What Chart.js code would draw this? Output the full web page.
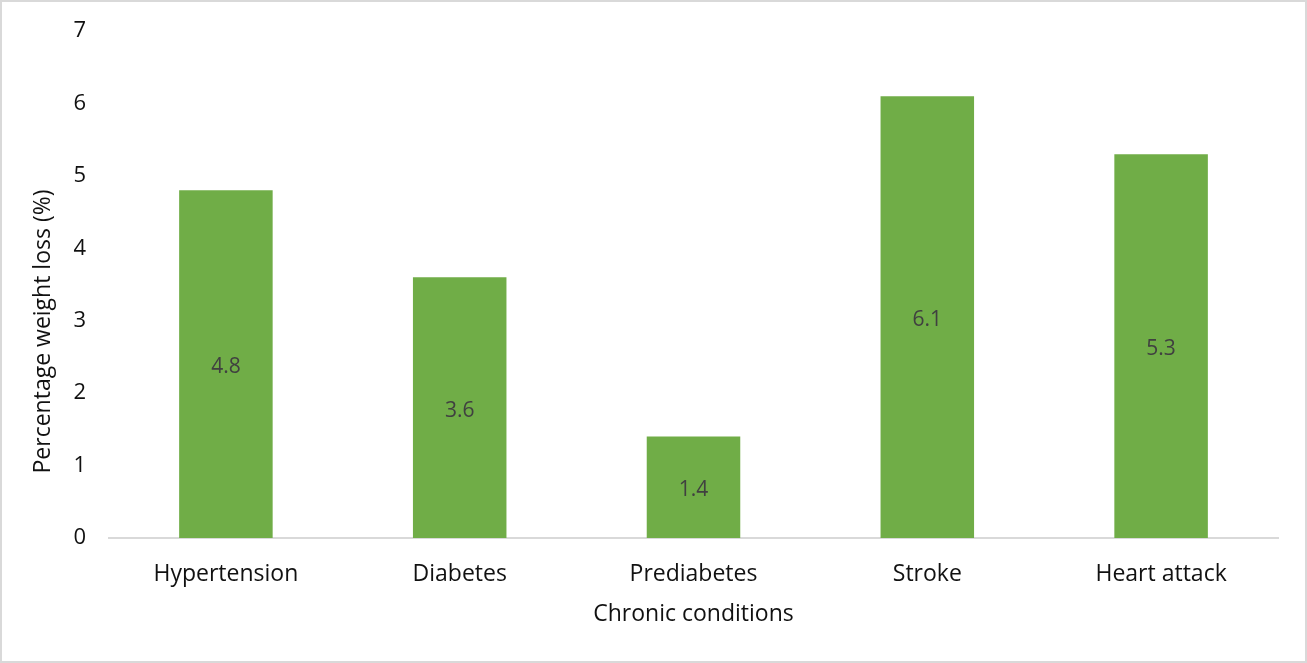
<!DOCTYPE html>
<html>
<head>
<meta charset="utf-8">
<script src="https://cdn.jsdelivr.net/npm/chart.js@4"></script>
<style>
  html, body { margin: 0; padding: 0; background: #ffffff; }
  #wrap { width: 1307px; height: 663px; position: relative; }
</style>
</head>
<body>
<div id="wrap"><canvas id="c" width="1307" height="663"></canvas></div>
<script>
// Mean percentage weight loss by chronic condition
const conditions = ['Hypertension', 'Diabetes', 'Prediabetes', 'Stroke', 'Heart attack'];
const weightLoss = [4.8, 3.6, 1.4, 6.1, 5.3];
const yTicks = [0, 1, 2, 3, 4, 5, 6, 7];
const yTitle = 'Percentage weight loss (%)';
const xTitle = 'Chronic conditions';

const FONT = "'Open Sans', 'Noto Sans', sans-serif";

// Light frame around the whole figure, plus the vertical axis title
// centred on the full figure height
const framePlugin = {
  id: 'frame',
  afterDraw(chart) {
    const ctx = chart.ctx;
    ctx.save();
    ctx.strokeStyle = '#d9d9d9';
    ctx.lineWidth = 2;
    ctx.strokeRect(1, 1, chart.width - 2, chart.height - 2);

    ctx.translate(43, chart.height / 2);
    ctx.rotate(-Math.PI / 2);
    ctx.fillStyle = '#111';
    ctx.font = '23px ' + FONT;
    ctx.textAlign = 'center';
    ctx.textBaseline = 'middle';
    ctx.fillText(yTitle, 0, 0);
    ctx.restore();
  }
};

// Value labels centred inside each bar
const valueLabels = {
  id: 'valueLabels',
  afterDatasetsDraw(chart) {
    const ctx = chart.ctx;
    const meta = chart.getDatasetMeta(0);
    const yScale = chart.scales.y;
    ctx.save();
    ctx.fillStyle = '#404040';
    ctx.font = '21px ' + FONT;
    ctx.textAlign = 'center';
    ctx.textBaseline = 'middle';
    meta.data.forEach((bar, i) => {
      const v = weightLoss[i];
      const mid = (yScale.getPixelForValue(v) + yScale.getPixelForValue(0)) / 2;
      ctx.fillText(v.toFixed(1), bar.x, mid + 3);
    });
    ctx.restore();
  }
};

new Chart(document.getElementById('c'), {
  type: 'bar',
  data: {
    labels: conditions,
    datasets: [{
      data: weightLoss,
      backgroundColor: '#70ad47',
      borderWidth: 0,
      categoryPercentage: 1.0,
      barPercentage: 0.4
    }]
  },
  options: {
    responsive: false,
    animation: false,
    devicePixelRatio: 1,
    layout: { padding: { left: 0, right: 29, top: 31, bottom: 0 } },
    plugins: {
      legend: { display: false },
      tooltip: { enabled: false }
    },
    scales: {
      x: {
        grid: { display: false, drawTicks: false },
        border: { display: true, color: '#d9d9d9', width: 2 },
        ticks: { color: '#111', padding: 23, font: { family: FONT, size: 23 } },
        title: {
          display: true,
          text: xTitle,
          color: '#111',
          font: { family: FONT, size: 23 },
          padding: { top: 0, bottom: 35 }
        },
        afterFit(scale) {
          scale.height = 125;
          scale.paddingLeft = 0;
          scale.paddingRight = 0;
        }
      },
      y: {
        min: 0,
        max: 7,
        afterBuildTicks(scale) { scale.ticks = yTicks.map(v => ({ value: v })); },
        grid: { display: false, drawTicks: false },
        border: { display: false },
        ticks: { color: '#111', padding: 23, font: { family: FONT, size: 22 } },
        title: { display: false },
        afterFit(scale) {
          scale.width = 109;
          scale.paddingTop = 0;
          scale.paddingBottom = 0;
        }
      }
    }
  },
  plugins: [valueLabels, framePlugin]
});
</script>
</body>
</html>
